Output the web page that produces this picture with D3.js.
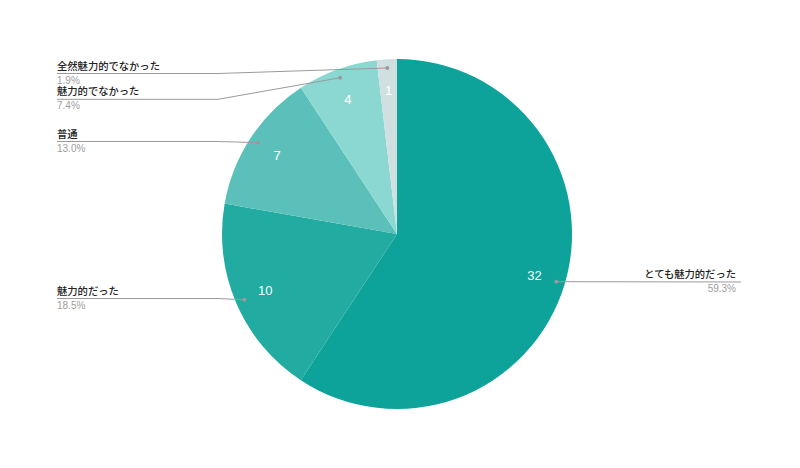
<!DOCTYPE html>
<html><head><meta charset="utf-8">
<script src="https://cdn.jsdelivr.net/npm/d3@7"></script>
<style>body{margin:0;background:#fff}svg{display:block}</style>
</head><body><svg id="c" width="800" height="468"></svg>
<script>
const categories = ["とても魅力的だった","魅力的だった","普通","魅力的でなかった","全然魅力的でなかった"];
const values = [32, 10, 7, 4, 1];
const colors = ["#0ea39a","#22aba1","#5ac0b9","#8bd8d2","#d0dfe0"];
// label layout: side and line y for each category
const labelLineY = [282, 298.5, 141.5, 99.3, 73.5];
const labelSide = ["right","left","left","left","left"];

const svg = d3.select("#c");
const cx = 397, cy = 234, r = 175;
const total = d3.sum(values);
const pie = d3.pie().sort(null).value(d => d)(values);
const arc = d3.arc().innerRadius(0).outerRadius(r);
const g = svg.append("g").attr("transform", `translate(${cx},${cy})`);
g.selectAll("path").data(pie).join("path")
  .attr("d", arc).attr("fill", (d,i) => colors[i]);

const pt = (d, k) => {
  const a = (d.startAngle + d.endAngle) / 2;
  return [cx + Math.sin(a) * r * k, cy - Math.cos(a) * r * k];
};
const fmt = d3.format(".1f");
const font = "'Noto Sans CJK JP', 'Noto Sans', Arial, sans-serif";

pie.forEach((d, i) => {
  const [nx, ny] = pt(d, 0.82);
  svg.append("text").attr("x", nx).attr("y", ny + 4.5)
    .attr("text-anchor", "middle").attr("fill", "#fff")
    .attr("font-family", "Arial, 'Liberation Sans', sans-serif").attr("font-size", 13)
    .text(values[i]);
  const [dx, dy] = pt(d, 0.95);
  const ly = labelLineY[i];
  let pts;
  if (labelSide[i] === "left") {
    const hx = Math.min(218, dx);
    pts = [[57, ly], [hx, ly], [dx, dy]];
  } else {
    pts = [[dx, dy], [741, ly]];
  }
  svg.append("path").attr("d", d3.line()(pts))
    .attr("fill", "none").attr("stroke", "#9a9a9a").attr("stroke-width", 1);
  svg.append("circle").attr("cx", dx).attr("cy", dy).attr("r", 2).attr("fill", "#9a9a9a");
  const tx = labelSide[i] === "left" ? 57 : 736;
  const anchor = labelSide[i] === "left" ? "start" : "end";
  svg.append("text").attr("x", tx).attr("y", ly - 4)
    .attr("text-anchor", anchor).attr("fill", "#222")
    .attr("font-family", font).attr("font-size", 10.3).attr("font-weight", 500)
    .text(categories[i]);
  svg.append("text").attr("x", tx).attr("y", ly + 10)
    .attr("text-anchor", anchor).attr("fill", "#9e9e9e")
    .attr("font-family", "Arial, 'Liberation Sans', sans-serif").attr("font-size", 10)
    .text(fmt(values[i] / total * 100) + "%");
});
</script></body></html>
